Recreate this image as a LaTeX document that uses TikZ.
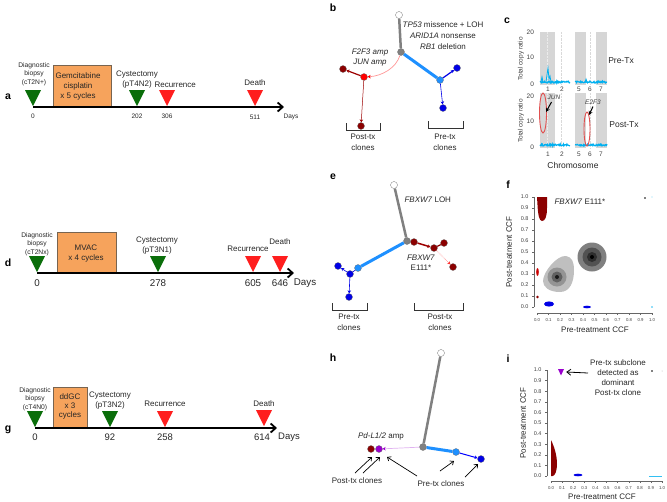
\documentclass[tikz,border=0pt]{standalone}
\usepackage{fontspec}
\setmainfont{Liberation Sans}
\usetikzlibrary{arrows.meta,shapes.geometric}
\definecolor{tgreen}{RGB}{10,110,10}
\definecolor{tred}{RGB}{255,30,30}
\definecolor{boxor}{RGB}{246,163,92}
\definecolor{boxbd}{RGB}{120,100,80}
\definecolor{cgray}{RGB}{128,128,128}
\definecolor{cblue}{RGB}{30,144,255}
\definecolor{dblue}{RGB}{0,0,230}
\definecolor{cred}{RGB}{255,0,0}
\definecolor{dred}{RGB}{139,0,0}
\definecolor{cpink}{RGB}{255,150,150}
\definecolor{cpurple}{RGB}{153,0,204}
\definecolor{lblue}{RGB}{0,176,240}
\definecolor{ellred}{RGB}{225,80,80}
\newcommand\ttri[3]{\fill[#1] (#2-8,#3-16) -- (#2+8,#3-16) -- (#2,#3) -- cycle;}
\tikzset{
  lab/.style={font=\fontsize{10.5}{10}\selectfont\bfseries},
  fs6/.style={font=\fontsize{6.7}{8.5}\selectfont, text=black!85, align=center},
  fs65/.style={font=\fontsize{6.5}{8}\selectfont, text=black!85, align=center},
  fs8/.style={font=\fontsize{8}{10}\selectfont, text=black!85, align=center},
  fs10/.style={font=\fontsize{9.8}{10}\selectfont, text=black!85, align=center},
  tick/.style={font=\fontsize{5.5}{6}\selectfont, text=black!75},
  xtick/.style={font=\fontsize{4.3}{5}\selectfont, text=black!75},
  tl/.style={line width=1.8pt, -{Straight Barb[length=5pt,width=9pt,line width=1.8pt]}},
  obox/.style={fill=boxor, draw=boxbd, line width=0.5pt},
  cl/.style={circle, inner sep=0pt, minimum size=7pt, fill=#1, draw=black!55, line width=0.3pt},
  gthick/.style={draw=cgray, line width=2.5pt},
  bthick/.style={draw=cblue, line width=3pt},
  sarrow/.style={-{Stealth[length=3pt,width=3.5pt]}},
  thinb/.style={draw=dblue, line width=0.6pt, sarrow},
  redl/.style={draw=dred!85!red, line width=1.2pt, sarrow},
  pinkl/.style={draw=cpink, line width=0.7pt, -{Stealth[length=3pt,width=3.5pt,color=cred]}},
  brk/.style={draw=black!80, line width=0.6pt},
  ann/.style={draw=black, line width=0.7pt, -{Straight Barb[length=3pt,width=5pt]}},
  bann/.style={draw=black, line width=1pt, -{Stealth[length=4pt,width=4pt]}},
  axis/.style={draw=black!60, line width=0.4pt},
  ctick/.style={font=\fontsize{6.5}{6}\selectfont, text=black!75},
}
\begin{document}
\begin{tikzpicture}[x=1pt,y=-1pt]
\useasboundingbox (0,0) rectangle (667,501);
\pgfmathsetseed{7}
% ================= panel a =================
\node[lab] (la) at (8,97) {a};
\draw[obox] (53,65) rectangle (111,107);
\node[fs8] (abox) at (78,86) {Gemcitabine\\cisplatin\\x 5 cycles};
\coordinate (a0) at (33,107);
\coordinate (a1) at (284,107);
\draw[tl] (a0) -- (a1);
\ttri{tgreen}{33}{106}
\ttri{tgreen}{137}{106}
\ttri{tred}{167}{106}
\ttri{tred}{255}{106}
\node[fs6] (adiag) at (34,74) {Diagnostic\\biopsy\\(cT2N+)};
\node[fs8] (acys) at (137,80) {Cystectomy\\(pT4N2)};
\node[fs8, anchor=west] (arec) at (151,85) {Recurrence};
\node[fs8] (adeath) at (255,83) {Death};
\node[fs65] (an0) at (33,116) {0};
\node[fs65] (an1) at (137,116) {202};
\node[fs65] (an2) at (167,116) {306};
\node[fs65] (an3) at (255,117) {511};
\node[fs65] (adays) at (291,117) {Days};
% ================= panel d =================
\node[lab] (ld) at (8,263) {d};
\draw[obox] (57,232) rectangle (116,273);
\node[fs8] (dbox) at (86,254) {MVAC\\x 4 cycles};
\coordinate (d0) at (37,273);
\coordinate (d1) at (294,273);
\draw[tl] (d0) -- (d1);
\ttri{tgreen}{37}{272}
\ttri{tgreen}{158}{272}
\ttri{tred}{253}{272}
\ttri{tred}{280}{272}
\node[fs6] (ddiag) at (37,244) {Diagnostic\\biopsy\\(cT2Nx)};
\node[fs8] (dcys) at (157,246) {Cystectomy\\(pT3N1)};
\node[fs8] (drec) at (248,249) {Recurrence};
\node[fs8] (ddeath) at (280,242) {Death};
\node[fs10] (dn0) at (37,283) {0};
\node[fs10] (dn1) at (158,283) {278};
\node[fs10] (dn2) at (253,283) {605};
\node[fs10] (dn3) at (280,283) {646};
\node[fs10] (ddays) at (305,283) {Days};
% ================= panel g =================
\node[lab] (lg) at (8,430) {g};
\draw[obox] (53,387) rectangle (87,428);
\node[fs8] (gbox) at (70,406.5) {ddGC\\[-0.8pt]x 3\\[-0.8pt]cycles};
\coordinate (g0) at (35,428);
\coordinate (g1) at (277,428);
\draw[tl] (g0) -- (g1);
\ttri{tgreen}{35}{427}
\ttri{tgreen}{110}{427}
\ttri{tred}{165}{427}
\ttri{tred}{264}{426}
\node[fs6] (gdiag) at (35,399) {Diagnostic\\biopsy\\(cT4N0)};
\node[fs8] (gcys) at (110,401) {Cystectomy\\(pT3N2)};
\node[fs8] (grec) at (165,404) {Recurrence};
\node[fs8] (gdeath) at (264,404) {Death};
\node[fs10, font=\fontsize{9.5}{10}\selectfont] (gn0) at (35,437) {0};
\node[fs10, font=\fontsize{9.5}{10}\selectfont] (gn1) at (110,437) {92};
\node[fs10, font=\fontsize{9.5}{10}\selectfont] (gn2) at (165,437) {258};
\node[fs10, font=\fontsize{9.5}{10}\selectfont] (gn3) at (262,437) {614};
\node[fs10, font=\fontsize{9.5}{10}\selectfont] (gdays) at (289,437) {Days};
% ================= panel b =================
\node[lab] (lb) at (333,8) {b};
\node[cl=white] (b0) at (399,15) {};
\node[cl=cgray] (b1) at (401,52) {};
\node[cl=cblue] (b2) at (440,80) {};
\node[cl=dblue] (b3) at (457,68) {};
\node[cl=dblue] (b4) at (443,108) {};
\node[cl=cred] (b5) at (364,77) {};
\node[cl=dred] (b6) at (343,69) {};
\node[cl=dred] (b7) at (361,126) {};
\draw[gthick] (b0) -- (b1);
\draw[bthick] (b1) -- (b2);
\draw[thinb, line width=1.2pt] (b2) -- (b3);
\draw[thinb] (b2) -- (b4);
\draw[pinkl] (b1) .. controls (396,68) and (382,76) .. (b5);
\draw[redl] (b5) -- (b6);
\draw[redl, line width=0.5pt] (b5) -- (b7);
\node[fs8, font=\fontsize{8}{11}\selectfont] (btxt) at (443,36) {\textit{TP53} missence + LOH\\\textit{ARID1A} nonsense\\\textit{RB1} deletion};
\node[fs8, font=\fontsize{8}{9.5}\selectfont\itshape] (btxt2) at (370,57.5) {F2F3 amp\\JUN amp};
\draw[brk] (346,123) -- (346,130) -- (380,130) -- (380,123);
\draw[brk] (428,121) -- (428,128) -- (463,128) -- (463,121);
\node[fs8, font=\fontsize{8}{11}\selectfont] (bpost) at (363,142.5) {Post-tx\\clones};
\node[fs8, font=\fontsize{8}{11}\selectfont] (bpre) at (445,142.5) {Pre-tx\\clones};
% ================= panel e =================
\node[lab] (le) at (333,177) {e};
\node[cl=white] (e0) at (394,185) {};
\node[cl=cgray] (e1) at (407,241) {};
\node[cl=dred] (e2) at (414,242) {};
\node[cl=dred] (e3) at (434,248) {};
\node[cl=dred] (e4) at (444,243) {};
\node[cl=dred] (e5) at (453,267) {};
\node[cl=cblue] (e6) at (358,268) {};
\node[cl=dblue] (e7) at (350,274) {};
\node[cl=dblue] (e8) at (338,266) {};
\node[cl=dblue] (e9) at (349,297) {};
\draw[gthick] (e0) -- (e1);
\draw[redl, line width=1.5pt] (e2) -- (e3);
\draw[draw=dred, line width=1.2pt] (e3) -- (e4);
\draw[draw=cred!80, line width=0.5pt, densely dotted, sarrow] (e3) -- (e5);
\draw[bthick] (e1) -- (e6);
\draw[draw=dblue, line width=0.6pt] (e6) -- (e7);
\draw[thinb] (e7) -- (e8);
\draw[thinb] (e7) -- (e9);
\node[fs8, anchor=west] (etxt) at (401,200) {\textit{FBXW7} LOH};
\node[fs8, font=\fontsize{8}{10}\selectfont] (etxt2) at (421,263) {\textit{FBXW7}\\E111*};
\draw[brk] (332,303) -- (332,310) -- (367,310) -- (367,303);
\draw[brk] (414,303) -- (414,310) -- (463,310) -- (463,303);
\node[fs8, font=\fontsize{8}{11}\selectfont] (epre) at (349,322.5) {Pre-tx\\clones};
\node[fs8, font=\fontsize{8}{11}\selectfont] (epost) at (440,322.5) {Post-tx\\clones};
% ================= panel h =================
\node[lab] (lh) at (333,358) {h};
\node[cl=white] (h0) at (441,353) {};
\node[cl=cgray] (h1) at (423,447) {};
\node[cl=cpurple] (h2) at (379,449) {};
\node[cl=dred] (h3) at (371,449) {};
\node[cl=cblue] (h4) at (456,452) {};
\node[cl=dblue] (h5) at (481,459) {};
\draw[gthick] (h0) -- (h1);
\draw[draw=cpurple!30, line width=0.7pt, -{Stealth[length=3pt,width=3.5pt,color=cpurple]}] (h1) -- (h2);
\draw[bthick] (h1) -- (h4);
\draw[thinb, draw=blue, line width=1pt] (h4) -- (h5);
\node[fs8] (htxt) at (381,436) {\textit{Pd-L1/2} amp};
\node[fs8] (hpost) at (357,481) {Post-tx clones};
\node[fs8] (hpre) at (441,484) {Pre-tx clones};
\coordinate (hp1s) at (355,473); \coordinate (hp1e) at (372,457);
\coordinate (hp2s) at (363,473); \coordinate (hp2e) at (380,457);
\coordinate (hq1s) at (417,476); \coordinate (hq1e) at (387,457);
\coordinate (hq2s) at (440,471); \coordinate (hq2e) at (454,461);
\coordinate (hq3s) at (465,477); \coordinate (hq3e) at (478,464);
\draw[ann] (hp1s) -- (hp1e);
\draw[ann] (hp2s) -- (hp2e);
\draw[ann] (hq1s) -- (hq1e);
\draw[ann] (hq2s) -- (hq2e);
\draw[ann] (hq3s) -- (hq3e);
% ================= panel c =================
\node[lab] (lc) at (507,21) {c};
\foreach \yt/\yb in {32/85, 93/148}{
  \fill[black!16] (540,\yt) rectangle (555,\yb);
  \fill[black!16] (575,\yt) rectangle (586,\yb);
  \fill[black!16] (596,\yt) rectangle (607,\yb);
  \draw[black!8, densely dotted, line width=0.4pt] (547,\yt) -- (547,\yb);
  \draw[black!15, densely dotted, line width=0.4pt] (561,\yt) -- (561,\yb);
  \draw[black!15, densely dotted, line width=0.4pt] (590,\yt) -- (590,\yb);
}
\draw[lblue, line width=1.2pt] plot[domain=540:570, samples=60] (\x,{82+0.9*rand});
\draw[lblue, line width=0.8pt] (541,82) -- (542,77) -- (543,82) (546,82) -- (548,68) -- (549,79) -- (550,76) -- (551,82);
\draw[lblue, line width=1.2pt] plot[domain=575:607, samples=60] (\x,{82+0.9*rand});
\draw[lblue, line width=0.8pt] (585,82) -- (586,79) -- (587,82);
\draw[lblue, line width=1.2pt] plot[domain=540:570, samples=60] (\x,{145+0.9*rand});
\draw[lblue, line width=1.2pt] plot[domain=575:607, samples=60] (\x,{145+0.9*rand});
\foreach \t/\yy in {20/32,10/57,0/84}{\node[ctick, anchor=east] at (537.5,\yy) {\t};}
\foreach \t/\yy in {20/96,10/121,0/147}{\node[ctick, anchor=east] at (537.5,\yy) {\t};}
\foreach \t/\xx in {1/548,2/562,5/579,6/590,7/601}{
  \node[ctick] at (\xx,89) {\t};
  \node[ctick] at (\xx,154) {\t};
}
\node[ctick, rotate=90] (cyl1) at (521,59) {Total copy ratio};
\node[ctick, rotate=90] (cyl2) at (521,121) {Total copy ratio};
\node[fs8, font=\fontsize{8.5}{10}\selectfont] (cpre) at (621,61) {Pre-Tx};
\node[fs8, font=\fontsize{8.5}{10}\selectfont] (cpost) at (624,125) {Post-Tx};
\node[fs8, font=\fontsize{8.5}{10}\selectfont] (cchr) at (573,165) {Chromosome};
\node[draw=ellred, line width=0.9pt, ellipse, minimum width=7pt, minimum height=40pt, inner sep=0pt] (cel1) at (543,113) {};
\node[draw=ellred, line width=0.9pt, ellipse, minimum width=6pt, minimum height=34pt, inner sep=0pt] (cel2) at (587,129) {};
\node[ctick, font=\fontsize{6.5}{6}\selectfont\itshape] (cjun) at (554,97) {JUN};
\node[ctick, font=\fontsize{6.5}{6}\selectfont\itshape] (ce2f3) at (593,102) {E2F3};
\coordinate (cj0) at (551.5,102);
\coordinate (cj1) at (546,112);
\coordinate (ce0) at (593,106.5);
\coordinate (ce1) at (589,115);
\draw[bann] (cj0) -- (cj1);
\draw[bann] (ce0) -- (ce1);
% ================= panel f =================
\node[lab] (lf) at (508,185) {f};
\draw[axis] (534,197) -- (534,307);
\foreach \i in {0,...,10}{
  \pgfmathsetmacro\yy{307-11*\i}
  \pgfmathsetmacro\xx{537+11.5*\i}
  \draw[axis] (534,\yy) -- (532,\yy);
  \draw[axis] (\xx,313) -- (\xx,315);
}
\draw[axis] (537,313) -- (652,313);
\foreach \t [count=\i from 0] in {0.0,0.1,0.2,0.3,0.4,0.5,0.6,0.7,0.8,0.9,1.0}{
  \pgfmathsetmacro\yy{307-11*\i}
  \pgfmathsetmacro\xx{537+11.5*\i}
  \node[tick, anchor=east] at (532,\yy) {\t};
  \node[xtick] at (\xx,320.5) {\t};
}
\node[fs8, rotate=90] (fyl) at (509,252) {Post-treatment CCF};
\node[fs8] (fxl) at (595,330) {Pre-treatment CCF};
\node[fs8, anchor=west] (ftxt) at (551,202) {\textit{FBXW7} E111*};
\fill[dred] (537,197) -- (547,197) -- (547,208) .. controls (547,217) and (545,221) .. (542,221) .. controls (539,221) and (538,214) .. (537.5,205) -- cycle;
\fill[black!25] (566,256) .. controls (572,257) and (574,262) .. (574,270) .. controls (574,282) and (570,292) .. (560,292) .. controls (549,292) and (543,287) .. (543,281) .. controls (543,272) and (557,255) .. (566,256) -- cycle;
\fill[black!42] (557,277) circle[radius=9.5];
\fill[black!62] (557,277) circle[radius=5.5];
\fill[black!90] (557,277) circle[radius=2];
\fill[black!50] (592,257) circle[radius=14.5];
\fill[black!68] (592,257) circle[radius=9.5];
\fill[black!82] (592,257) circle[radius=5];
\fill[black] (592,257) circle[radius=2];
\fill[red!55!dred] (537.5,272) ellipse[x radius=1.3, y radius=4];
\fill[dred] (537.5,297) circle[radius=1.3];
\fill[blue!90!black] (549,304) ellipse[x radius=5, y radius=2.6];
\fill[blue!90!black] (587,307) ellipse[x radius=4, y radius=1.3];
\fill[lblue] (652,307) ellipse[x radius=1, y radius=0.7];
\fill[black] (645,198) circle[radius=0.9];
\fill[lblue!50] (652,197) circle[radius=0.6];
% ================= panel i =================
\node[lab] (li) at (508,359) {i};
\draw[axis] (547,370) -- (547,476);
\draw[axis] (551,481) -- (662,481);
\foreach \t [count=\i from 0] in {0.0,0.1,0.2,0.3,0.4,0.5,0.6,0.7,0.8,0.9,1.0}{
  \pgfmathsetmacro\yy{476-10.6*\i}
  \pgfmathsetmacro\xx{551+11.1*\i}
  \draw[axis] (547,\yy) -- (545,\yy);
  \draw[axis] (\xx,481) -- (\xx,483);
  \node[tick, anchor=east] at (545,\yy) {\t};
  \node[xtick] at (\xx,488.5) {\t};
}
\node[fs8, rotate=90] (iyl) at (523,423) {Post-treatment CCF};
\node[fs8] (ixl) at (602,497) {Pre-treatment CCF};
\fill[dred] (551,440) .. controls (554,446) and (557,455) .. (557,464) .. controls (557,471) and (555,476) .. (552.5,476) -- (551,476) -- cycle;
\fill[blue!90!black] (578,475) ellipse[x radius=4.5, y radius=1.3];
\fill[lblue!80] (649,475.5) rectangle (662,476.7);
\fill[black] (652,371) circle[radius=0.9];
\fill[black!30] (662,371) circle[radius=0.5];
\node[inner sep=0pt, minimum size=0pt] (imark) at (561,372) {};
\fill[cpurple] (558,369) -- (564,369) -- (561,375.5) -- cycle;
\node[fs8, font=\fontsize{8}{10}\selectfont] (itxt) at (618,378) {Pre-tx subclone\\detected as\\dominant\\Post-tx clone};
\coordinate (iar) at (588,373);
\draw[ann, line width=0.8pt, -{Straight Barb[length=4pt,width=6pt]}] (iar) -- ([xshift=5pt]imark.east);
\end{tikzpicture}
\end{document}
